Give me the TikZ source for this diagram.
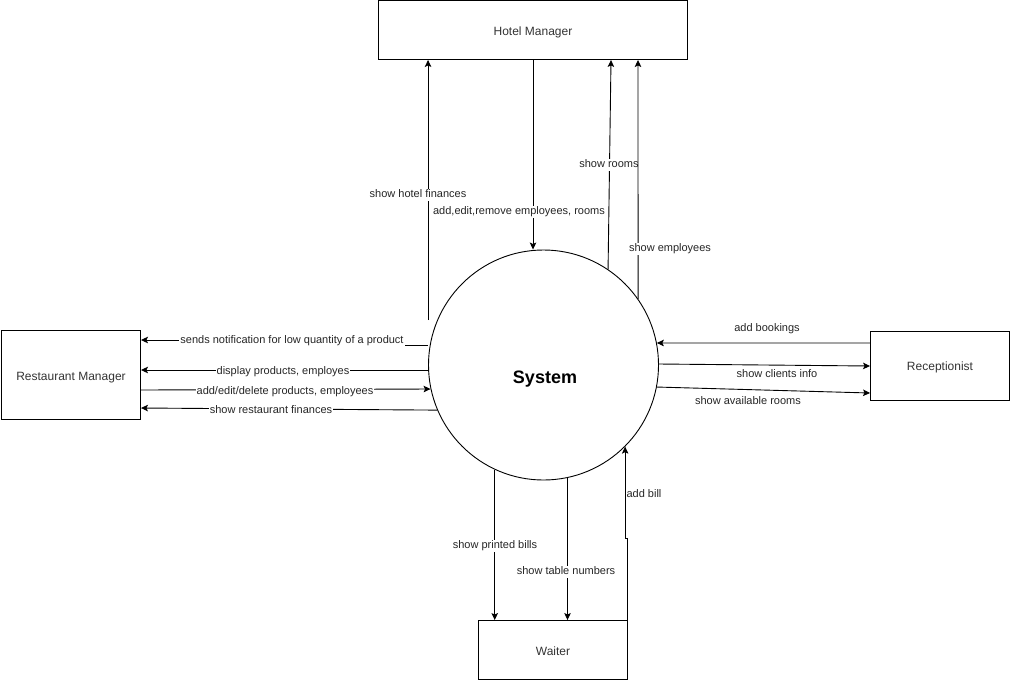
\documentclass[tikz,border=0pt]{standalone}
\usepackage{fontspec}
\setmainfont{Liberation Sans}
\usetikzlibrary{arrows.meta,calc}
\definecolor{txt}{HTML}{333333}
\tikzset{
  ent/.style={draw, line width=0.9pt, rectangle, font=\fontsize{12}{14}\selectfont, text=txt, text height=10.6pt, text depth=0pt},
  arr/.style={draw, line width=0.9pt, -{Stealth[length=7pt,width=6.5pt,inset=1.5pt]}},
  lbl/.style={fill=white, inner sep=1pt, font=\fontsize{11}{13}\selectfont, text=black!85, text height=8pt, text depth=2.3pt, yshift=-1.8pt},
}
\begin{document}
\begin{tikzpicture}[x=1pt,y=-1pt]
\useasboundingbox (0,0) rectangle (1011,681);
% entities
\node[ent, minimum width=309pt, minimum height=59pt] (hm) at (533,30) {Hotel Manager};
\node[ent, minimum width=139pt, minimum height=89pt] (rm) at (71,375) {Restaurant Manager};
\node[ent, minimum width=139pt, minimum height=69pt] (rec) at (940,365.5) {Receptionist};
\node[ent, minimum width=149pt, minimum height=59pt] (wt) at (553,650) {Waiter};
\node[draw, line width=0.9pt, circle, minimum size=230pt, inner sep=0pt] (sys) at (543.5,365) {};
\node[font=\fontsize{18}{20}\selectfont\bfseries, yshift=-2pt] (systxt) at (545,377) {System};

% Hotel Manager
\draw[arr] (sys.west |- 0,320) -- (hm.south -| sys.west);
\node[lbl] (l1) at (418,193) {show hotel finances};
\draw[arr] (hm.south) -- (sys.north -| hm.south);
\node[lbl] (l2) at (519,210) {add,edit,remove employees, rooms};
\draw[arr] (sys.56.5) -- (hm.south -| 611,0);
\node[lbl] (l3) at (609,163) {show rooms};
\draw[arr] (sys.35.6) -- (hm.south -| 638,0);
\node[lbl] (l4) at (670,247) {show employees};

% Restaurant Manager
\draw[arr] (sys.west |- 0,345) -- (403,345) -- (403,340) -- (rm.east |- 0,340);
\node[lbl] (l5) at (292,339) {sends notification for low quantity of a product};
\draw[arr] (sys.west |- 0,370) -- (rm.east |- 0,370);
\node[lbl] (l6) at (283,370) {display products, employes};
\draw[arr] (rm.east |- 0,390) -- (sys.192.5);
\node[lbl] (l7) at (285,390) {add/edit/delete products, employees};
\draw[arr] (sys.203.6) -- (rm.east |- 0,408);
\node[lbl] (l8) at (271,409) {show restaurant finances};

% Receptionist
\draw[arr] (rec.west |- 0,343) -- (sys.11);
\node[lbl] (l9) at (767,327) {add bookings};
\draw[arr] (sys.east |- 0,364) -- (rec.west |- 0,366);
\node[lbl] (l10) at (777,373) {show clients info};
\draw[arr] (sys.-11) -- (rec.west |- 0,393);
\node[lbl] (l11) at (748,400) {show available rooms};

% Waiter
\draw[arr] (sys.245) -- (sys.245 |- wt.north);
\node[lbl] (l12) at (495,544) {show printed bills};
\draw[arr] (sys.-78.7) -- (sys.-78.7 |- wt.north);
\node[lbl] (l13) at (566,570) {show table numbers};
\draw[arr] (wt.north -| 627,0) -- ++(0,-82) -| (sys.-45);
\node[lbl] (l14) at (644,493) {add bill};
\end{tikzpicture}
\end{document}
